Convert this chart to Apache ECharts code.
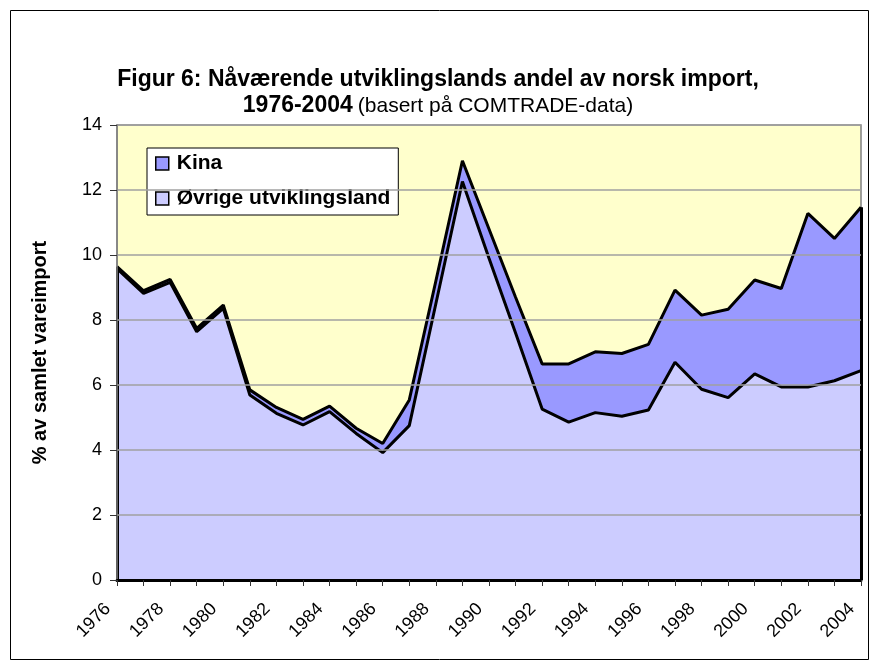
<!DOCTYPE html>
<html>
<head>
<meta charset="utf-8">
<script src="https://cdn.jsdelivr.net/npm/echarts@6/dist/echarts.min.js"></script>
<style>
  html, body { margin: 0; padding: 0; background: #fff; }
  #chart { width: 876px; height: 669px; }
</style>
</head>
<body>
<div id="chart"></div>
<script>
const years = [
  "1976", "1977", "1978", "1979", "1980", "1981", "1982", "1983", "1984", "1985",
  "1986", "1987", "1988", "1989", "1990", "1991", "1992", "1993", "1994", "1995",
  "1996", "1997", "1998", "1999", "2000", "2001", "2002", "2003", "2004"
];
// Øvrige utviklingsland (bottom layer)
const ovrige = [
  9.58, 8.82, 9.16, 7.64, 8.36, 5.69, 5.13, 4.77, 5.18, 4.51,
  3.92, 4.75, 8.5, 12.26, 9.9, 7.6, 5.26, 4.86, 5.15, 5.04,
  5.23, 6.7, 5.87, 5.61, 6.34, 5.94, 5.94, 6.13, 6.44
];
// Kina (stacked on top)
const kina = [
  0.06, 0.08, 0.09, 0.1, 0.1, 0.16, 0.18, 0.17, 0.17, 0.16,
  0.28, 0.79, 0.7, 0.64, 0.9, 1.1, 1.39, 1.79, 1.87, 1.93,
  2.02, 2.22, 2.28, 2.72, 2.89, 3.03, 5.34, 4.38, 5.03
];

const font = "Liberation Sans, Arial, sans-serif";
const last = years.length - 1;
// outline of the stacked area at the two plot edges
const edgeLines = [
  [{ coord: [years[0], 0] }, { coord: [years[0], ovrige[0] + kina[0]] }],
  [{ coord: [years[last], 0] }, { coord: [years[last], ovrige[last] + kina[last]] }]
];

const chart = echarts.init(document.getElementById("chart"));

chart.setOption({
  animation: false,
  backgroundColor: "#ffffff",
  textStyle: { fontFamily: font, color: "#000" },
  graphic: [
    {
      type: "rect",
      shape: { x: 10.5, y: 10.5, width: 858, height: 649 },
      style: { fill: "none", stroke: "#000", lineWidth: 1 },
      z: -1
    }
  ],
  title: {
    left: "center",
    top: 62,
    text: "{b|Figur 6: Nåværende utviklingslands andel av norsk import,}\n{b|1976-2004} {n|(basert på COMTRADE-data)}",
    textStyle: {
      fontWeight: "normal",
      rich: {
        b: { fontFamily: font, fontSize: 23, fontWeight: "bold", color: "#000", lineHeight: 26 },
        n: { fontFamily: font, fontSize: 21, fontWeight: "normal", color: "#000", lineHeight: 26 }
      }
    }
  },
  legend: {
    orient: "vertical",
    left: 147,
    top: 148,
    data: ["Kina", "Øvrige utviklingsland"],
    backgroundColor: "#fff",
    borderColor: "#000",
    borderWidth: 1,
    borderRadius: 0,
    padding: [5, 8, 6, 8],
    itemWidth: 13,
    itemHeight: 13,
    itemGap: 14,
    icon: "rect",
    textStyle: { fontFamily: font, fontSize: 21, fontWeight: "bold", color: "#000", padding: [0, 0, 0, 3] },
    itemStyle: { borderColor: "#000", borderWidth: 1.5 }
  },
  grid: {
    left: 117,
    right: 15,
    top: 125,
    bottom: 89,
    show: true,
    backgroundColor: "#ffffcc",
    borderColor: "#808080",
    borderWidth: 1.5
  },
  xAxis: {
    type: "category",
    data: years,
    boundaryGap: false,
    axisLine: { lineStyle: { color: "#000", width: 3 } },
    axisTick: { show: true, interval: 0, length: 6, lineStyle: { color: "#333", width: 1 } },
    axisLabel: {
      interval: 1,
      rotate: 45,
      fontFamily: font,
      fontSize: 18,
      color: "#000",
      margin: 17,
      padding: [0, 13, 0, 0]
    },
    splitLine: { show: false },
    z: 10
  },
  yAxis: {
    type: "value",
    min: 0,
    max: 14,
    interval: 2,
    name: "% av samlet vareimport",
    nameLocation: "middle",
    nameGap: 67,
    nameTextStyle: { fontFamily: font, fontSize: 20, fontWeight: "bold", color: "#000" },
    axisLine: { show: true, lineStyle: { color: "#808080", width: 1.5 } },
    axisTick: { show: true, length: 7, lineStyle: { color: "#333", width: 1 } },
    axisLabel: { fontFamily: font, fontSize: 18, color: "#000", margin: 15 },
    splitLine: { show: true, lineStyle: { color: "#a0a0a0", width: 1.5 } },
    z: 10
  },
  series: [
    {
      name: "Øvrige utviklingsland",
      type: "line",
      stack: "total",
      data: ovrige,
      symbol: "none",
      lineStyle: { color: "#000", width: 3 },
      itemStyle: { color: "#ccccff", borderColor: "#000" },
      areaStyle: { color: "#ccccff", opacity: 1 },
      z: 3
    },
    {
      name: "Kina",
      type: "line",
      stack: "total",
      data: kina,
      symbol: "none",
      lineStyle: { color: "#000", width: 3 },
      itemStyle: { color: "#9999ff", borderColor: "#000" },
      areaStyle: { color: "#9999ff", opacity: 1 },
      markLine: {
        silent: true,
        symbol: "none",
        label: { show: false },
        lineStyle: { color: "#000", width: 3, type: "solid" },
        data: edgeLines
      },
      z: 2
    }
  ]
});
</script>
</body>
</html>
